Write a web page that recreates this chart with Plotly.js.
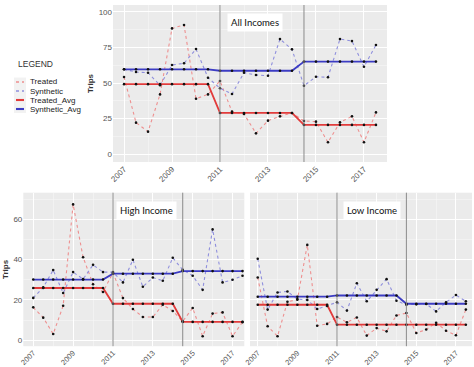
<!DOCTYPE html>
<html><head><meta charset="utf-8">
<script src="https://cdn.plot.ly/plotly-3.0.1.min.js"></script>
<style>html,body{margin:0;padding:0;background:#fff}</style>
</head><body><div id="chart" style="width:474px;height:367px"></div>
<script>
// ---- data ----
const years = [2007, 2007.5, 2008, 2008.5, 2009, 2009.5, 2010, 2010.5, 2011, 2011.5, 2012,
               2012.5, 2013, 2013.5, 2014, 2014.5, 2015, 2015.5, 2016, 2016.5, 2017, 2017.5];

const treatedAll = [54.2, 22.2, 15.9, 42, 88.3, 90.7, 39, 42, 51.4, 29.9, 28.3,
                    14.7, 23.6, 26.6, 29, 23.4, 22.9, 8.4, 22.4, 26.6, 8.4, 29.4];
const syntheticAll = [59.6, 57.7, 57.2, 48.4, 62.6, 63.8, 73.8, 53.7, 46.3, 42.3, 57.2,
                      55.6, 55.1, 80.8, 73.6, 48.1, 54.4, 54, 80.8, 79.4, 61.4, 76.6];
const treatedAvgAll = [49.2, 49.2, 49.2, 49.2, 49.2, 49.2, 49.2, 49.2, 29, 29, 29,
                       29, 29, 29, 29, 20.6, 20.6, 20.6, 20.6, 20.6, 20.6, 20.6];
const syntheticAvgAll = [59.6, 59.6, 59.6, 59.6, 59.6, 59.6, 59.6, 59.6, 58.6, 58.6, 58.6,
                         58.6, 58.6, 58.6, 58.6, 65, 65, 65, 65, 65, 65, 65];

const treatedHigh = [16.3, 11.2, 3.1, 17.1, 67.4, 41.2, 27.8, 23.9, 33.5, 20.9, 15.5,
                     11.5, 11.5, 17.6, 14.5, 9.4, 16, 2, 13.2, 13.8, 2, 9];
const syntheticHigh = [21, 26.2, 34.8, 23.4, 33.8, 30.3, 37.4, 33.8, 33.8, 28.7, 39.9,
                       26.5, 31.1, 29.5, 40.9, 34.9, 32, 25, 55, 28.7, 30, 32];
const treatedAvgHigh = [25.9, 25.9, 25.9, 25.9, 25.9, 25.9, 25.9, 25.9, 18.1, 18.1, 18.1,
                        18.1, 18.1, 18.1, 18.1, 9.1, 9.1, 9.1, 9.1, 9.1, 9.1, 9.1];
const syntheticAvgHigh = [30.1, 30.1, 30.1, 30.1, 30.1, 30.1, 30.1, 30.1, 33, 33, 33,
                          33, 33, 33, 33, 34.3, 34.3, 34.3, 34.3, 34.3, 34.3, 34.3];

const treatedLow = [31.1, 6.9, 2, 19.1, 20.1, 47.3, 7.2, 8.1, 11.5, 8.9, 11.3,
                    2.3, 6, 4.4, 12.3, 13.5, 3.6, 5.3, 8.7, 4.7, 2.5, 15.2];
const syntheticLow = [40.4, 15.2, 23.7, 24.2, 20.4, 20, 15.5, 17, 18.8, 14.7, 28.3,
                      19.3, 25, 30.3, 19.6, 17.6, 17.8, 18, 14.3, 18.8, 22.4, 19.3];
const treatedAvgLow = [17.6, 17.6, 17.6, 17.6, 17.6, 17.6, 17.6, 17.6, 7.7, 7.7, 7.7,
                       7.7, 7.7, 7.7, 7.7, 7.7, 7.7, 7.7, 7.7, 7.7, 7.7, 7.7];
const syntheticAvgLow = [21.6, 21.6, 21.6, 21.6, 21.6, 21.6, 21.6, 21.6, 22.2, 22.2, 22.2,
                         22.2, 22.2, 22.2, 22.2, 18.1, 18.1, 18.1, 18.1, 18.1, 18.1, 18.1];

const interventionYears = [2011, 2014.5];
const panelLabels = ['All Incomes', 'High Income', 'Low Income'];
const legendLabels = ['Treated', 'Synthetic', 'Treated_Avg', 'Synthetic_Avg'];
const legendTitle = 'LEGEND';
const xTickVals = [2007, 2009, 2011, 2013, 2015, 2017];
const xTickText = ['2007', '2009', '2011', '2013', '2015', '2017'];
const yTicksAll = [0, 25, 50, 75, 100];
const yTicksIncome = [0, 20, 40, 60];
const yTitle = 'Trips';

// ---- styles ----
const W = 474, H = 367;
const px = x => x / W, py = y => 1 - y / H;
const colTreated = '#EE8F8F', colSynth = '#8F8FDD';
const colTreatedAvg = '#E23B3B', colSynthAvg = '#3C3CC4';
const tickFont = {family: 'Liberation Sans, Arial, sans-serif', size: 8, color: '#555555'};
const tickFontSmall = {family: 'Liberation Sans, Arial, sans-serif', size: 7.5, color: '#555555'};

const panels = [
  {xa: 'x', ya: 'y', data: [treatedAll, syntheticAll, treatedAvgAll, syntheticAvgAll],
   label: panelLabels[0], labelPos: [2012.45, 92.5]},
  {xa: 'x2', ya: 'y2', data: [treatedHigh, syntheticHigh, treatedAvgHigh, syntheticAvgHigh],
   label: panelLabels[1], labelPos: [2012.7, 64.6]},
  {xa: 'x3', ya: 'y3', data: [treatedLow, syntheticLow, treatedAvgLow, syntheticAvgLow],
   label: panelLabels[2], labelPos: [2012.74, 64.6]}
];

const lineStyles = [
  {color: colTreated, width: 1.1, dash: 'dot'},
  {color: colSynth, width: 1.1, dash: 'dot'},
  {color: colTreatedAvg, width: 1.8, dash: 'solid'},
  {color: colSynthAvg, width: 1.8, dash: 'solid'}
];

const traces = [];
const shapes = [];
const annotations = [];
panels.forEach(p => {
  p.data.forEach((vals, i) => {
    traces.push({x: years, y: vals, xaxis: p.xa, yaxis: p.ya, type: 'scatter', mode: 'lines',
      line: lineStyles[i], name: legendLabels[i], showlegend: false, hoverinfo: 'skip'});
  });
  p.data.forEach((vals, i) => {
    traces.push({x: years, y: vals, xaxis: p.xa, yaxis: p.ya, type: 'scatter', mode: 'markers',
      marker: {color: '#111111', size: 2.6}, showlegend: false, hoverinfo: 'skip'});
  });
  interventionYears.forEach(v => {
    shapes.push({type: 'line', xref: p.xa, yref: p.ya + ' domain', x0: v, x1: v, y0: 0, y1: 1,
      line: {color: '#8a8a8a', width: 1}});
  });
  annotations.push({xref: p.xa, yref: p.ya, x: p.labelPos[0], y: p.labelPos[1], text: p.label,
    showarrow: false, bgcolor: '#FFFFFF', borderpad: 3,
    font: {family: 'Lato, sans-serif', size: 9.5, color: '#111111'}});
});

// custom legend
annotations.push({xref: 'paper', yref: 'paper', x: px(17), y: py(63.5), xanchor: 'left', yanchor: 'middle',
  text: legendTitle, showarrow: false, borderpad: 0,
  font: {family: 'Liberation Sans, Arial, sans-serif', size: 8.5, color: '#333333'}});
shapes.push({type: 'rect', xref: 'paper', yref: 'paper', x0: px(14), x1: px(26), y0: py(77.5), y1: py(113),
  fillcolor: '#F2F2F2', line: {width: 0}, layer: 'below'});
const legendY = [82, 91, 100, 109];
legendLabels.forEach((t, i) => {
  shapes.push({type: 'line', xref: 'paper', yref: 'paper', x0: px(16), x1: px(24), y0: py(legendY[i]), y1: py(legendY[i]),
    line: {color: lineStyles[i].color, width: lineStyles[i].width + 0.3, dash: lineStyles[i].dash}});
  annotations.push({xref: 'paper', yref: 'paper', x: px(29), y: py(legendY[i]), xanchor: 'left', yanchor: 'middle',
    text: t, showarrow: false, borderpad: 0,
    font: {family: 'Liberation Sans, Arial, sans-serif', size: 8, color: '#222222'}});
});

function xAxis(domain, range, anchor, font) {
  return {domain: domain, range: range, anchor: anchor, tickmode: 'array', tickvals: xTickVals, ticktext: xTickText,
    tickangle: -45, tickfont: font, showgrid: true, gridcolor: '#FFFFFF', gridwidth: 1,
    zeroline: false, showline: false, ticks: '', fixedrange: true,
    minor: {tickmode: 'array', tickvals: [2008, 2010, 2012, 2014, 2016], showgrid: true, gridcolor: '#F6F6F6', gridwidth: 0.6}};
}
function yAxis(domain, range, anchor, tickvals, minorVals, showLabels, title) {
  const ax = {domain: domain, range: range, anchor: anchor, tickmode: 'array', tickvals: tickvals, showticklabels: showLabels,
    tickfont: tickFont, showgrid: true, gridcolor: '#FFFFFF', gridwidth: 1, zeroline: false, showline: false,
    ticks: '', fixedrange: true,
    minor: {tickmode: 'array', tickvals: minorVals, showgrid: true, gridcolor: '#F6F6F6', gridwidth: 0.6}};
  if (title) ax.title = {text: '<b>' + title + '</b>', font: {family: 'Liberation Sans, Arial, sans-serif', size: 8, color: '#333333'}, standoff: 3};
  return ax;
}

const layout = {
  width: W, height: H, margin: {l: 0, r: 0, t: 0, b: 0}, paper_bgcolor: '#FFFFFF', plot_bgcolor: '#EBEBEB',
  showlegend: false, font: {family: 'Liberation Sans, Arial, sans-serif'},
  xaxis: xAxis([px(113), px(387)], [2006.54, 2017.96], 'y', tickFont),
  yaxis: yAxis([py(162), py(5)], [-5.4, 104.7], 'x', yTicksAll, [12.5, 37.5, 62.5, 87.5], true, yTitle),
  xaxis2: xAxis([px(23.3), px(244.3)], [2006.5, 2017.59], 'y2', tickFontSmall),
  yaxis2: yAxis([py(346.2), py(192.7)], [-2.97, 73.2], 'x2', yTicksIncome, [10, 30, 50, 70], true, yTitle),
  xaxis3: xAxis([px(250), px(472)], [2006.61, 2017.81], 'y3', tickFontSmall),
  yaxis3: yAxis([py(346.2), py(192.7)], [-2.97, 73.2], 'x3', yTicksIncome, [10, 30, 50, 70], false, null),
  shapes: shapes, annotations: annotations
};

Plotly.newPlot('chart', traces, layout, {staticPlot: true, displayModeBar: false});
</script></body></html>
